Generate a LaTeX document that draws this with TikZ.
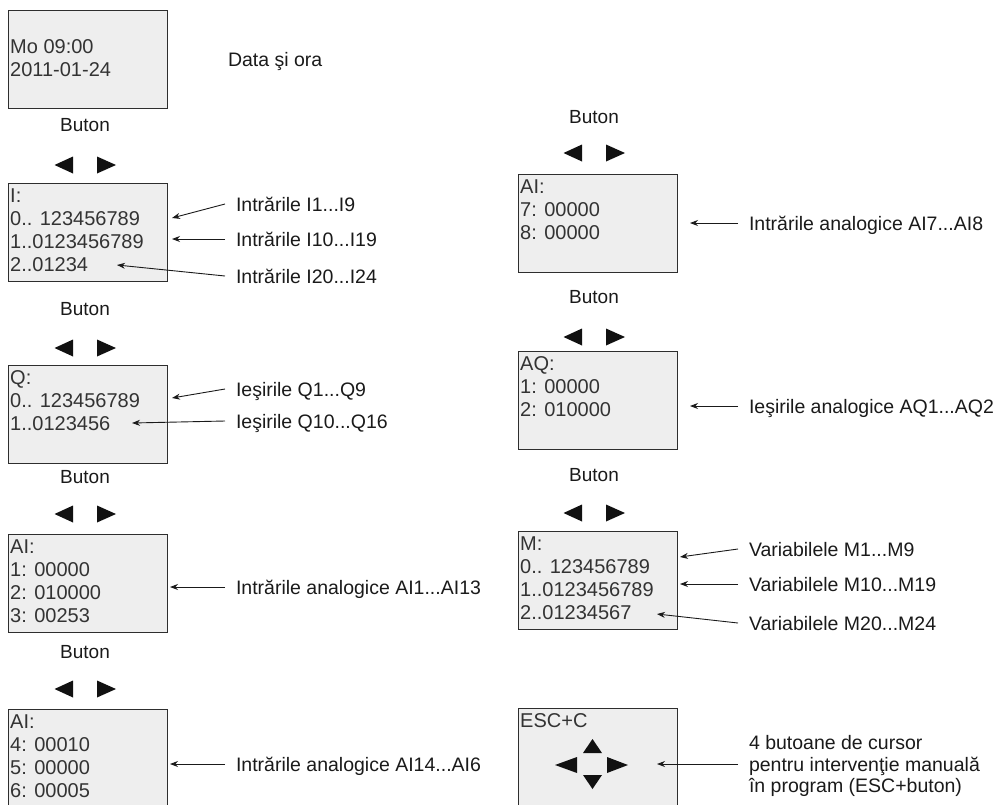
\documentclass[tikz,border=0pt]{standalone}
\usepackage{fontspec}
\setmainfont{Liberation Sans}
\usetikzlibrary{arrows.meta}
\definecolor{ScreenFill}{HTML}{EEEEEE}
\definecolor{ScreenEdge}{HTML}{2E2E2E}
\definecolor{ScreenText}{HTML}{333333}
\definecolor{BodyText}{HTML}{1A1A1A}
\definecolor{KeyBlack}{HTML}{111111}

\tikzset{
  screen/.style={draw=ScreenEdge,fill=ScreenFill,line width=1.3pt,anchor=north west,
    minimum width=159pt,minimum height=98pt,inner sep=0pt},
  scrtext/.style={anchor=west,inner sep=0pt,text=ScreenText,
    font=\fontsize{20}{23}\selectfont,text height=14.3pt,text depth=0pt},
  note/.style={anchor=west,inner sep=0pt,outer xsep=11pt,text=BodyText,
    font=\fontsize{19.5}{22}\selectfont,text height=14pt,text depth=0pt},
  btntext/.style={inner sep=0pt,text=BodyText,
    font=\fontsize{19}{22}\selectfont,text height=13.6pt,text depth=0pt},
  ptr/.style={draw=BodyText,line width=0.9pt,-{Stealth[length=8pt,width=6pt]}}
}

\begin{document}
\begin{tikzpicture}[x=1pt,y=-1pt]
  \useasboundingbox (0,0) rectangle (999,804);
  \clip (0,0) rectangle (999,804);

  % screens
  \node[screen] (sDate) at (8,10) {};
  \node[screen] (sI) at (8,183) {};
  \node[screen] (sQ) at (8,365) {};
  \node[screen] (sAIa) at (8,534) {};
  \node[screen] (sAIb) at (8,709) {};
  \node[screen] (sAIc) at (518,174) {};
  \node[screen] (sAQ) at (518,351) {};
  \node[screen] (sM) at (518,531) {};
  \node[screen] (sEsc) at (518,708) {};

  % screen contents
  \node[scrtext] (tDate1) at (10,46) {Mo 09:00};
  \node[scrtext] (tDate2) at (10,69) {2011-01-24};

  \node[scrtext] (tI0) at (10,195) {I:};
  \node[scrtext] (tI1) at (10,218) {0.. 123456789};
  \node[scrtext] (tI2) at (10,241) {1..0123456789};
  \node[scrtext] (tI3) at (10,264) {2..01234};

  \node[scrtext] (tQ0) at (10,377) {Q:};
  \node[scrtext] (tQ1) at (10,400) {0.. 123456789};
  \node[scrtext] (tQ2) at (10,423) {1..0123456};

  \node[scrtext] (tAIa0) at (10,546) {AI:};
  \node[scrtext] (tAIa1) at (10,569) {1: 00000};
  \node[scrtext] (tAIa2) at (10,592) {2: 010000};
  \node[scrtext] (tAIa3) at (10,615) {3: 00253};

  \node[scrtext] (tAIb0) at (10,721) {AI:};
  \node[scrtext] (tAIb1) at (10,744) {4: 00010};
  \node[scrtext] (tAIb2) at (10,767) {5: 00000};
  \node[scrtext] (tAIb3) at (10,790) {6: 00005};

  \node[scrtext] (tAIc0) at (520,186) {AI:};
  \node[scrtext] (tAIc1) at (520,209) {7: 00000};
  \node[scrtext] (tAIc2) at (520,232) {8: 00000};

  \node[scrtext] (tAQ0) at (520,363) {AQ:};
  \node[scrtext] (tAQ1) at (520,386) {1: 00000};
  \node[scrtext] (tAQ2) at (520,409) {2: 010000};

  \node[scrtext] (tM0) at (520,543) {M:};
  \node[scrtext] (tM1) at (520,566) {0.. 123456789};
  \node[scrtext] (tM2) at (520,589) {1..0123456789};
  \node[scrtext] (tM3) at (520,612) {2..01234567};

  \node[scrtext] (tEsc0) at (520,720) {ESC+C};
  \fill[KeyBlack] (592.5,739) -- (602,753) -- (583,753) -- cycle;
  \fill[KeyBlack] (555,765) -- (577,757) -- (577,773) -- cycle;
  \fill[KeyBlack] (628,765) -- (607,757) -- (607,773) -- cycle;
  \fill[KeyBlack] (592.5,789) -- (602,775) -- (583,775) -- cycle;

  % Buton + arrow keys
  \foreach \n/\x/\yb/\yt in {a/85/125/165,b/85/309/348,c/85/477/514,d/85/652/689,
      e/594/117/153,f/594/297/337,g/594/475/513} {
    \node[btntext] (btn\n) at (\x,\yb) {Buton};
    \fill[KeyBlack] (\x-30.5,\yt) -- (\x-12,\yt-8.5) -- (\x-12,\yt+8.5) -- cycle;
    \fill[KeyBlack] (\x+31,\yt) -- (\x+12,\yt-8.5) -- (\x+12,\yt+8.5) -- cycle;
  }

  % notes
  \node[note,outer xsep=0pt] (nDate) at (228,59) {Data şi ora};
  \node[note] (nI1) at (225,204) {Intrările I1...I9};
  \node[note] (nI2) at (225,239) {Intrările I10...I19};
  \node[note] (nI3) at (225,276) {Intrările I20...I24};
  \node[note] (nQ1) at (225,389) {Ieşirile Q1...Q9};
  \node[note] (nQ2) at (225,421) {Ieşirile Q10...Q16};
  \node[note] (nAIa) at (225,587) {Intrările analogice AI1...AI13};
  \node[note] (nAIb) at (225,764) {Intrările analogice AI14...AI6};
  \node[note] (nAIc) at (738,223) {Intrările analogice AI7...AI8};
  \node[note] (nAQ) at (738,406) {Ieşirile analogice AQ1...AQ2};
  \node[note] (nM1) at (738,549) {Variabilele M1...M9};
  \node[note] (nM2) at (738,584) {Variabilele M10...M19};
  \node[note] (nM3) at (738,623) {Variabilele M20...M24};
  \node[note] (nEsc1) at (738,742) {4 butoane de cursor};
  \node[note] (nEsc2) at (738,764) {pentru intervenţie manuală};
  \node[note] (nEsc3) at (738,785) {în program (ESC+buton)};

  % pointer tips
  \coordinate (pI1) at (172,218);
  \coordinate (pI2) at (172,239);
  \coordinate (pI3) at (117,265);
  \coordinate (pQ1) at (172,398);
  \coordinate (pQ2) at (132,423);
  \coordinate (pAIa) at (170,587);
  \coordinate (pAIb) at (170,764);
  \coordinate (pAIc) at (690,223);
  \coordinate (pAQ) at (690,406);
  \coordinate (pM1) at (680,557);
  \coordinate (pM2) at (680,584);
  \coordinate (pM3) at (657,614);
  \coordinate (pEsc) at (657,764);

  \draw[ptr] (nI1.west) -- (pI1);
  \draw[ptr] (nI2.west) -- (pI2);
  \draw[ptr] (nI3.west) -- (pI3);
  \draw[ptr] (nQ1.west) -- (pQ1);
  \draw[ptr] (nQ2.west) -- (pQ2);
  \draw[ptr] (nAIa.west) -- (pAIa);
  \draw[ptr] (nAIb.west) -- (pAIb);
  \draw[ptr] (nAIc.west) -- (pAIc);
  \draw[ptr] (nAQ.west) -- (pAQ);
  \draw[ptr] (nM1.west) -- (pM1);
  \draw[ptr] (nM2.west) -- (pM2);
  \draw[ptr] (nM3.west) -- (pM3);
  \draw[ptr] (nEsc2.west) -- (pEsc);
\end{tikzpicture}
\end{document}
